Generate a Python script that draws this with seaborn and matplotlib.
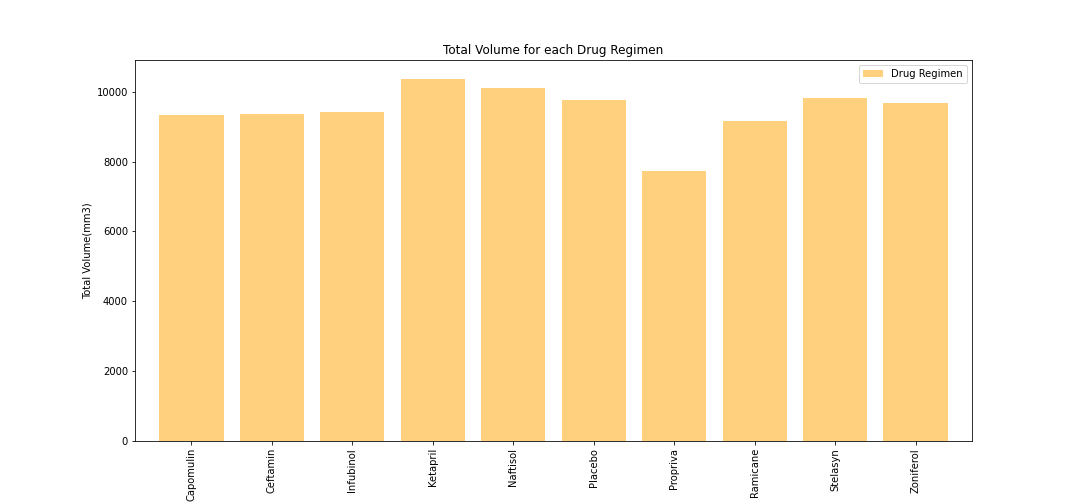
import matplotlib
matplotlib.use("Agg")
import matplotlib.pyplot as plt
import seaborn as sns
import pandas as pd

drugs = ["Capomulin", "Ceftamin", "Infubinol", "Ketapril", "Naftisol",
         "Placebo", "Propriva", "Ramicane", "Stelasyn", "Zoniferol"]
volumes = [9341, 9370, 9427, 10373, 10115, 9771, 7736, 9169, 9828, 9685]

df = pd.DataFrame({"drug": drugs, "vol": volumes})
fig, ax = plt.subplots(figsize=(15, 7), dpi=72)
fig.subplots_adjust(left=0.125, right=0.9, top=0.88, bottom=0.125)
sns.barplot(data=df, x="drug", y="vol", color="orange", alpha=0.5,
            saturation=1, width=0.8, label="Drug Regimen", ax=ax)
ax.set_title("Total Volume for each Drug Regimen")
ax.set_ylabel("Total Volume(mm3)")
ax.set_xlabel("")
ax.tick_params(axis="x", rotation=90)
ax.set_xlim(-0.7, 9.7)
ax.legend(loc="upper right")
fig.savefig("out.png", dpi=72)
